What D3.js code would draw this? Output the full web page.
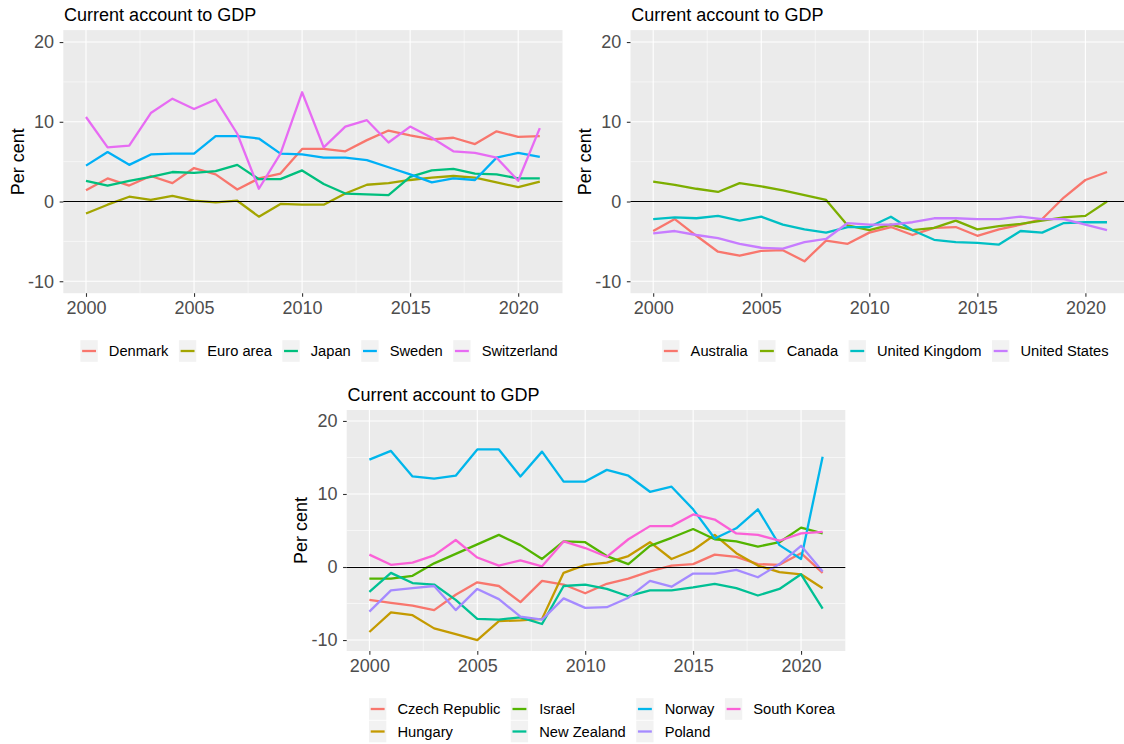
<!DOCTYPE html>
<html>
<head>
<meta charset="utf-8">
<script src="https://cdn.jsdelivr.net/npm/d3@7"></script>
<style>
  body { margin: 0; background: #ffffff; }
  text { font-family: "Liberation Sans", Arial, sans-serif; }
</style>
</head>
<body>
<div id="area"></div>
<script>
// years on the x axis
var years = [2000, 2001, 2002, 2003, 2004, 2005, 2006, 2007, 2008, 2009, 2010,
             2011, 2012, 2013, 2014, 2015, 2016, 2017, 2018, 2019, 2020, 2021];

var yTicks = [-10, 0, 10, 20];
var yMinor = [-5, 5, 15];
var xTicks = [2000, 2005, 2010, 2015, 2020];
var xMinor = [2002.5, 2007.5, 2012.5, 2017.5];

// panel 1
var denmark     = [1.4, 2.9, 2.0, 3.2, 2.3, 4.2, 3.4, 1.5, 2.9, 3.5, 6.6, 6.6, 6.3, 7.7, 8.9, 8.3, 7.8, 8.0, 7.2, 8.8, 8.1, 8.2];
var euroArea    = [-1.5, -0.4, 0.6, 0.2, 0.7, 0.1, -0.1, 0.1, -1.9, -0.3, -0.4, -0.4, 1.0, 2.1, 2.3, 2.7, 3.0, 3.2, 3.0, 2.4, 1.8, 2.5];
var japan       = [2.6, 2.0, 2.6, 3.1, 3.7, 3.6, 3.8, 4.6, 2.8, 2.8, 3.9, 2.2, 1.0, 0.9, 0.8, 3.1, 3.9, 4.1, 3.5, 3.4, 2.9, 2.9];
var sweden      = [4.5, 6.2, 4.6, 5.9, 6.0, 6.0, 8.2, 8.2, 7.9, 6.0, 5.9, 5.5, 5.5, 5.2, 4.3, 3.4, 2.4, 2.9, 2.7, 5.5, 6.1, 5.6];
var switzerland = [10.6, 6.8, 7.0, 11.1, 12.9, 11.6, 12.8, 8.5, 1.6, 6.0, 13.7, 6.8, 9.4, 10.2, 7.4, 9.4, 8.0, 6.3, 6.1, 5.5, 2.6, 9.2];

// panel 2
var australia    = [-3.7, -2.2, -4.3, -6.3, -6.8, -6.2, -6.1, -7.5, -4.9, -5.3, -3.9, -3.2, -4.2, -3.3, -3.2, -4.3, -3.5, -2.9, -2.2, 0.5, 2.7, 3.7];
var canada       = [2.5, 2.1, 1.6, 1.2, 2.3, 1.9, 1.4, 0.8, 0.2, -3.0, -3.6, -2.9, -3.6, -3.3, -2.4, -3.5, -3.1, -2.8, -2.4, -2.0, -1.8, 0.0];
var unitedKingdom = [-2.2, -2.0, -2.1, -1.8, -2.4, -1.9, -2.9, -3.5, -3.9, -3.2, -3.2, -1.9, -3.6, -4.8, -5.1, -5.2, -5.4, -3.7, -3.9, -2.7, -2.6, -2.6];
var unitedStates = [-4.0, -3.7, -4.2, -4.6, -5.3, -5.8, -5.9, -5.1, -4.7, -2.7, -2.9, -2.9, -2.6, -2.1, -2.1, -2.2, -2.2, -1.9, -2.2, -2.2, -2.9, -3.6];

// panel 3
var czechRepublic = [-4.5, -4.9, -5.3, -5.9, -3.8, -2.1, -2.6, -4.8, -1.9, -2.4, -3.6, -2.3, -1.6, -0.6, 0.2, 0.4, 1.7, 1.4, 0.4, 0.3, 1.9, -0.8];
var hungary       = [-8.9, -6.2, -6.6, -8.4, -9.2, -10.0, -7.4, -7.3, -7.1, -0.8, 0.3, 0.6, 1.5, 3.4, 1.1, 2.3, 4.4, 1.9, 0.2, -0.7, -1.0, -2.9];
var israel        = [-1.6, -1.6, -1.2, 0.5, 1.8, 3.1, 4.4, 3.0, 1.1, 3.5, 3.4, 1.5, 0.4, 2.9, 4.0, 5.2, 3.8, 3.5, 2.8, 3.4, 5.4, 4.6];
var newZealand    = [-3.4, -0.8, -2.2, -2.4, -4.5, -7.1, -7.2, -6.9, -7.8, -2.6, -2.4, -3.0, -4.0, -3.2, -3.2, -2.8, -2.3, -2.9, -3.9, -3.0, -1.0, -5.7];
var norway        = [14.7, 15.9, 12.4, 12.1, 12.5, 16.1, 16.1, 12.4, 15.8, 11.7, 11.7, 13.3, 12.5, 10.3, 11.0, 7.9, 3.9, 5.3, 7.9, 3.0, 1.1, 15.1];
var poland        = [-6.1, -3.2, -2.9, -2.6, -5.9, -3.0, -4.4, -6.8, -7.2, -4.3, -5.6, -5.5, -4.2, -1.9, -2.7, -0.9, -0.9, -0.4, -1.4, 0.4, 2.9, -0.6];
var southKorea    = [1.7, 0.3, 0.6, 1.6, 3.7, 1.3, 0.2, 0.9, 0.1, 3.5, 2.6, 1.4, 3.8, 5.6, 5.6, 7.2, 6.5, 4.6, 4.4, 3.6, 4.6, 4.8];

var svg = d3.select("#area")
  .append("svg")
    .attr("width", 1124)
    .attr("height", 744)
    .style("display", "block");

svg.append("rect").attr("width", 1124).attr("height", 744).attr("fill", "#ffffff");

function drawPanel(p) {
  var g = svg.append("g");

  var x = d3.scaleLinear().domain([1998.95, 2022.05]).range([p.left, p.right]);
  var y = d3.scaleLinear().domain([-11.5, 21.5]).range([p.bottom, p.top]);

  g.append("rect")
    .attr("x", p.left).attr("y", p.top)
    .attr("width", p.right - p.left).attr("height", p.bottom - p.top)
    .attr("fill", "#EBEBEB");

  // grid lines, minor first
  g.selectAll(".ym").data(yMinor).enter().append("line")
    .attr("x1", p.left).attr("x2", p.right)
    .attr("y1", function(d) { return y(d); }).attr("y2", function(d) { return y(d); })
    .attr("stroke", "#ffffff").attr("stroke-width", 0.55);
  g.selectAll(".xm").data(xMinor).enter().append("line")
    .attr("y1", p.top).attr("y2", p.bottom)
    .attr("x1", function(d) { return x(d); }).attr("x2", function(d) { return x(d); })
    .attr("stroke", "#ffffff").attr("stroke-width", 0.55);
  g.selectAll(".yM").data(yTicks).enter().append("line")
    .attr("x1", p.left).attr("x2", p.right)
    .attr("y1", function(d) { return y(d); }).attr("y2", function(d) { return y(d); })
    .attr("stroke", "#ffffff").attr("stroke-width", 1.1);
  g.selectAll(".xM").data(xTicks).enter().append("line")
    .attr("y1", p.top).attr("y2", p.bottom)
    .attr("x1", function(d) { return x(d); }).attr("x2", function(d) { return x(d); })
    .attr("stroke", "#ffffff").attr("stroke-width", 1.1);

  // axes (plain hyphen for negatives, like the R output)
  var ax = g.append("g")
    .attr("transform", "translate(0," + p.bottom + ")")
    .call(d3.axisBottom(x).tickValues(xTicks).tickFormat(function(d) { return String(d); }).tickSize(3.65).tickPadding(4.3));
  var ay = g.append("g")
    .attr("transform", "translate(" + p.left + ",0)")
    .call(d3.axisLeft(y).tickValues(yTicks).tickFormat(function(d) { return String(d); }).tickSize(3.65).tickPadding(5.6));
  [ax, ay].forEach(function(a) {
    a.select(".domain").remove();
    a.selectAll(".tick line").attr("stroke", "#333333").attr("stroke-width", 1.1);
    a.selectAll(".tick text")
      .attr("fill", "#4D4D4D")
      .style("font-size", "18px")
      .style("font-family", "'Liberation Sans', Arial, sans-serif");
  });

  var line = d3.line()
    .x(function(d, i) { return x(years[i]); })
    .y(function(d) { return y(d); });

  p.series.forEach(function(s) {
    g.append("path")
      .datum(s.values)
      .attr("d", line)
      .attr("fill", "none")
      .attr("stroke", s.color)
      .attr("stroke-width", 2.3)
      .attr("stroke-linejoin", "round");
  });

  // zero line, snapped to the pixel grid so it stays crisp black
  var y0 = Math.floor(y(0)) + 0.5;
  g.append("line")
    .attr("x1", p.left).attr("x2", p.right)
    .attr("y1", y0).attr("y2", y0)
    .attr("stroke", "#000000").attr("stroke-width", 1.1);

  // titles
  g.append("text")
    .attr("x", p.left + 0.8).attr("y", p.top - 9)
    .style("font-size", "18px").attr("fill", "#000000")
    .text("Current account to GDP");

  g.append("text")
    .attr("transform", "translate(" + (p.left - 39.3) + "," + ((p.top + p.bottom) / 2) + ") rotate(-90)")
    .attr("text-anchor", "middle")
    .style("font-size", "18px").attr("fill", "#000000")
    .text("Per cent");

  drawLegend(p.series, p.nrow, p.legendCx, p.legendRows);
}

function drawLegend(series, nrow, cx, rowYs) {
  var lg = svg.append("g");
  var keyW = 17.3, keyH = 21.7, textOff = 28.4, gap = 10.5;
  var ncol = Math.ceil(series.length / nrow);

  // measure text
  var items = series.map(function(s, i) {
    var t = lg.append("text").style("font-size", "14.7px").attr("fill", "#000000").text(s.name);
    return { s: s, t: t, w: t.node().getComputedTextLength(), col: Math.floor(i / nrow), row: i % nrow };
  });

  var colW = [];
  for (var c = 0; c < ncol; c++) {
    colW.push(d3.max(items.filter(function(it) { return it.col === c; }), function(it) { return it.w; }));
  }
  var total = d3.sum(colW) + ncol * textOff + (ncol - 1) * gap;
  var colX = [];
  var xx = cx - total / 2;
  colW.forEach(function(w) { colX.push(xx); xx += textOff + w + gap; });

  items.forEach(function(it) {
    var kx = colX[it.col], ky = rowYs[it.row];
    lg.append("rect")
      .attr("x", kx).attr("y", ky - keyH / 2)
      .attr("width", keyW).attr("height", keyH)
      .attr("fill", "#F2F2F2");
    lg.append("line")
      .attr("x1", kx + 1.7).attr("x2", kx + keyW - 1.7)
      .attr("y1", ky).attr("y2", ky)
      .attr("stroke", it.s.color).attr("stroke-width", 2.3);
    it.t.attr("x", kx + textOff).attr("y", ky).attr("dy", "0.36em");
  });
}

drawPanel({
  left: 63.3, right: 562.5, top: 30.1, bottom: 293.2,
  nrow: 1, legendCx: 319, legendRows: [351],
  series: [
    { name: "Denmark", values: denmark, color: "#F8766D" },
    { name: "Euro area", values: euroArea, color: "#A3A500" },
    { name: "Japan", values: japan, color: "#00BF7D" },
    { name: "Sweden", values: sweden, color: "#00B0F6" },
    { name: "Switzerland", values: switzerland, color: "#E76BF3" }
  ]
});

drawPanel({
  left: 630.5, right: 1129.7, top: 30.1, bottom: 293.2,
  nrow: 1, legendCx: 885.4, legendRows: [351],
  series: [
    { name: "Australia", values: australia, color: "#F8766D" },
    { name: "Canada", values: canada, color: "#7CAE00" },
    { name: "United Kingdom", values: unitedKingdom, color: "#00BFC4" },
    { name: "United States", values: unitedStates, color: "#C77CFF" }
  ]
});

drawPanel({
  left: 346.7, right: 845.3, top: 410, bottom: 651,
  nrow: 2, legendCx: 602, legendRows: [709, 731.5],
  series: [
    { name: "Czech Republic", values: czechRepublic, color: "#F8766D" },
    { name: "Hungary", values: hungary, color: "#C49A00" },
    { name: "Israel", values: israel, color: "#53B400" },
    { name: "New Zealand", values: newZealand, color: "#00C094" },
    { name: "Norway", values: norway, color: "#00B6EB" },
    { name: "Poland", values: poland, color: "#A58AFF" },
    { name: "South Korea", values: southKorea, color: "#FB61D7" }
  ]
});
</script>
</body>
</html>
